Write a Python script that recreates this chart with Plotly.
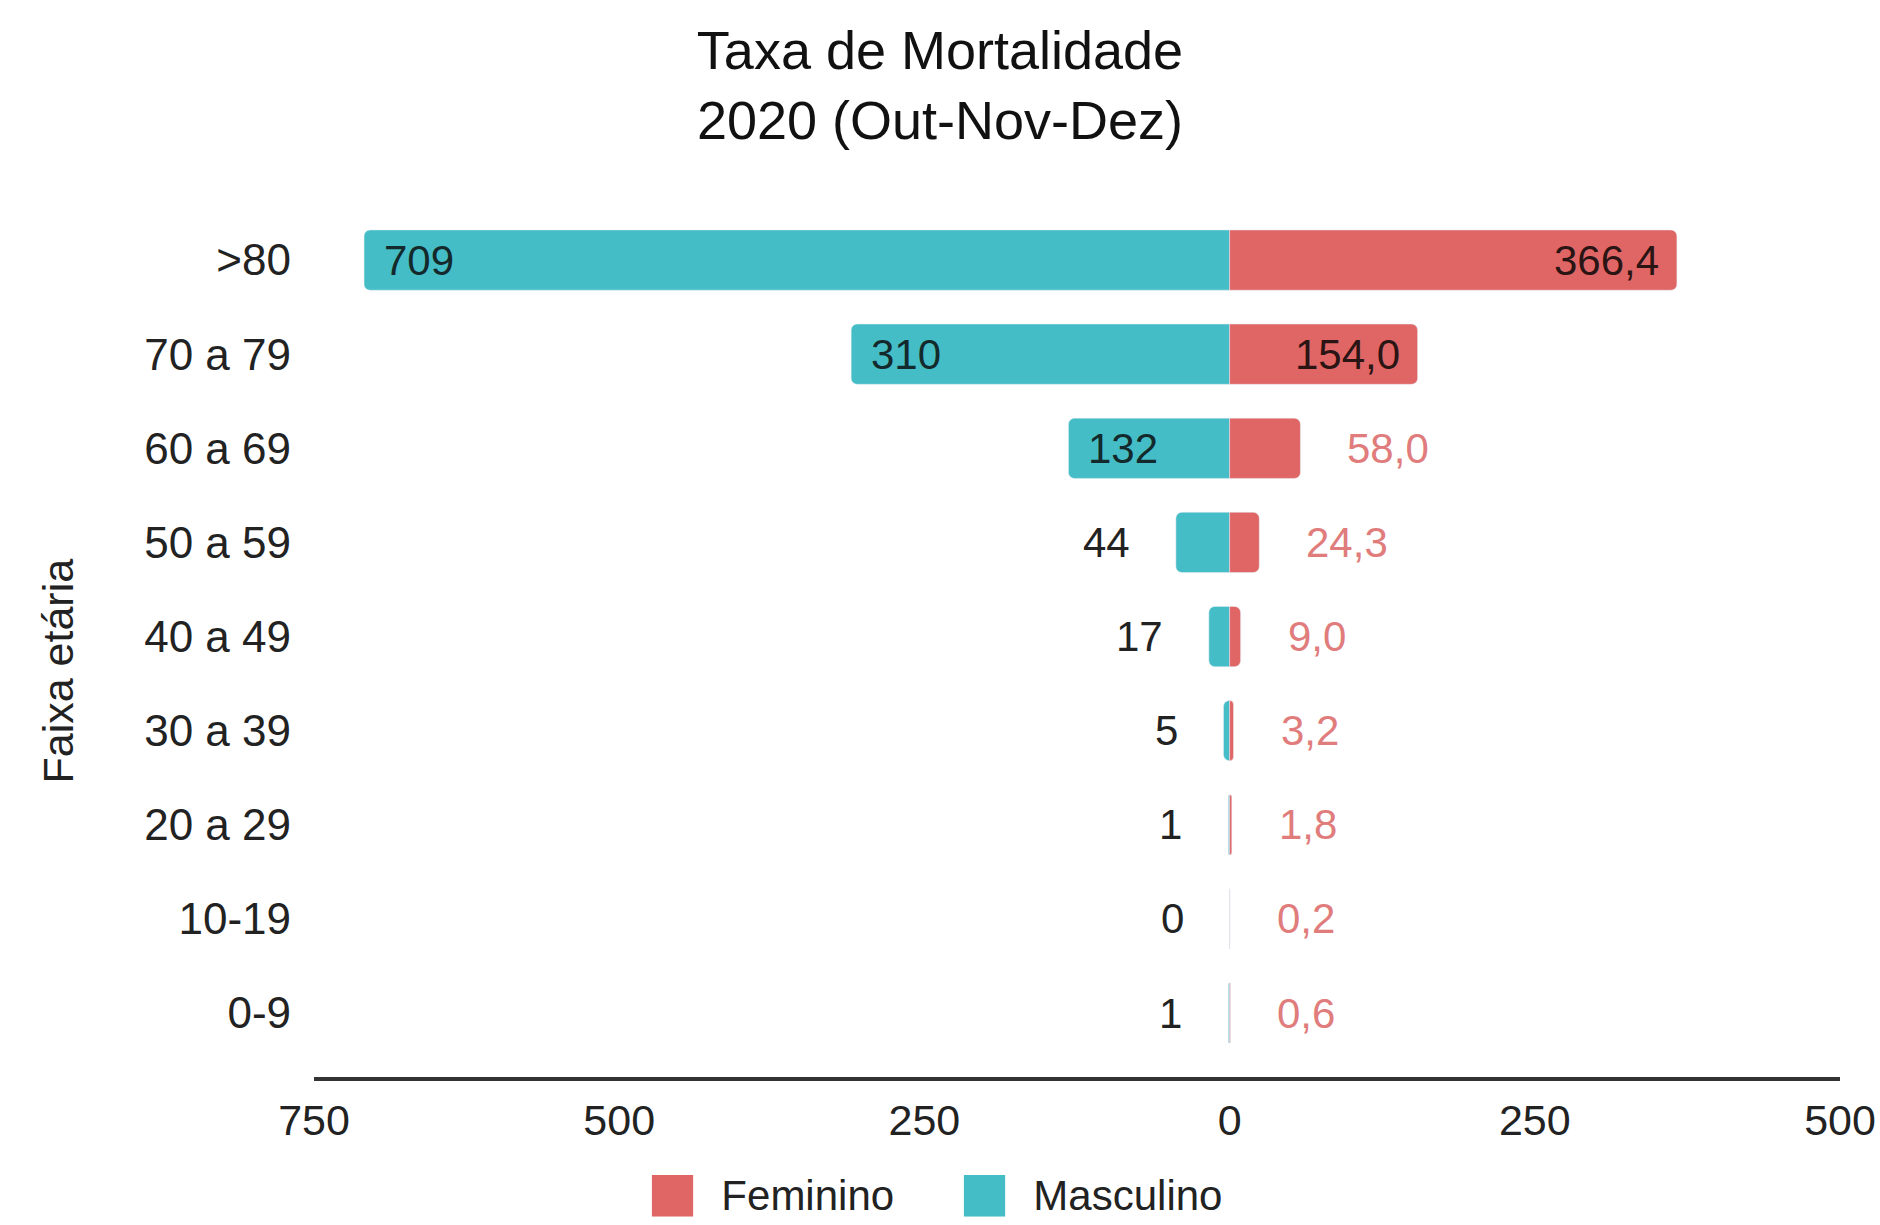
import plotly.graph_objects as go

# ---- data ----
faixas = [">80", "70 a 79", "60 a 69", "50 a 59", "40 a 49", "30 a 39", "20 a 29", "10-19", "0-9"]
masculino = [709, 310, 132, 44, 17, 5, 1, 0, 1]
feminino = [366.4, 154.0, 58.0, 24.3, 9.0, 3.2, 1.8, 0.2, 0.6]
masc_inside = [True, True, True, False, False, False, False, False, False]
fem_inside = [True, True, False, False, False, False, False, False, False]
x_tickvals = [-750, -500, -250, 0, 250, 500]
x_ticktext = ["750", "500", "250", "0", "250", "500"]

TEAL = "#45BDC6"
RED = "#E06666"
FONT = "Liberation Sans, Arial, sans-serif"


def fmt_pt(v):
    return f"{v:.1f}".replace(".", ",")


fig = go.Figure()
fig.add_trace(go.Bar(
    y=faixas, x=[-v for v in masculino], orientation="h", name="Masculino",
    marker=dict(color=TEAL, cornerradius=6), showlegend=False, hoverinfo="skip"))
fig.add_trace(go.Bar(
    y=faixas, x=feminino, orientation="h", name="Feminino",
    marker=dict(color=RED, cornerradius=6), showlegend=False, hoverinfo="skip"))

annotations = []
for cat, v, inside in zip(faixas, masculino, masc_inside):
    if inside:
        annotations.append(dict(x=-v, y=cat, text=str(v), showarrow=False, xanchor="left",
                                xshift=18, font=dict(size=42, color="#13292b", family=FONT)))
    else:
        annotations.append(dict(x=-v, y=cat, text=str(v), showarrow=False, xanchor="right",
                                xshift=-44, font=dict(size=42, color="#222222", family=FONT)))
for cat, v, inside in zip(faixas, feminino, fem_inside):
    if inside:
        annotations.append(dict(x=v, y=cat, text=fmt_pt(v), showarrow=False, xanchor="right",
                                xshift=-16, font=dict(size=42, color="#2a1414", family=FONT)))
    else:
        annotations.append(dict(x=v, y=cat, text=fmt_pt(v), showarrow=False, xanchor="left",
                                xshift=45, font=dict(size=42, color="#E07C7C", family=FONT)))

# y-axis title
annotations.append(dict(xref="paper", yref="paper", x=-0.168, y=0.47, text="Faixa etária",
                        textangle=-90, showarrow=False, xanchor="center", yanchor="middle",
                        font=dict(size=43, color="#222222", family=FONT)))
# legend
annotations.append(dict(xref="paper", yref="paper", x=0.217, y=-0.133, xanchor="left", yanchor="middle",
                        showarrow=False,
                        text=f"<span style='color:{RED};font-family:DejaVu Sans;font-size:54px'>■</span>&nbsp;&nbsp;Feminino",
                        font=dict(size=42, color="#222222", family=FONT)))
annotations.append(dict(xref="paper", yref="paper", x=0.4213, y=-0.133, xanchor="left", yanchor="middle",
                        showarrow=False,
                        text=f"<span style='color:{TEAL};font-family:DejaVu Sans;font-size:54px'>■</span>&nbsp;&nbsp;Masculino",
                        font=dict(size=42, color="#222222", family=FONT)))

fig.update_layout(
    width=1880, height=1225,
    paper_bgcolor="white", plot_bgcolor="white",
    margin=dict(l=314, r=40, t=213, b=148),
    barmode="overlay", bargap=0.36,
    title=dict(text="Taxa de Mortalidade<br>2020 (Out-Nov-Dez)", x=0.5, xanchor="center",
               y=0.944, yanchor="top", yref="container",
               font=dict(size=54, color="#111111", family=FONT)),
    annotations=annotations,
    showlegend=False,
)
fig.update_xaxes(range=[-750, 500], tickvals=x_tickvals, ticktext=x_ticktext, automargin=False,
                 showgrid=False, zeroline=False, showline=True, linecolor="#333333", linewidth=4,
                 ticks="", ticklabelstandoff=2,
                 tickfont=dict(size=43, color="#222222", family=FONT))
fig.update_yaxes(categoryorder="array", categoryarray=faixas, range=[8.68, -0.5], automargin=False,
                 showgrid=False, zeroline=False, showline=False, ticks="", ticklabelstandoff=22,
                 tickfont=dict(size=44, color="#222222", family=FONT))

fig.write_html("out.html", config={"displayModeBar": False},
               post_script="document.body.style.margin='0px';")
